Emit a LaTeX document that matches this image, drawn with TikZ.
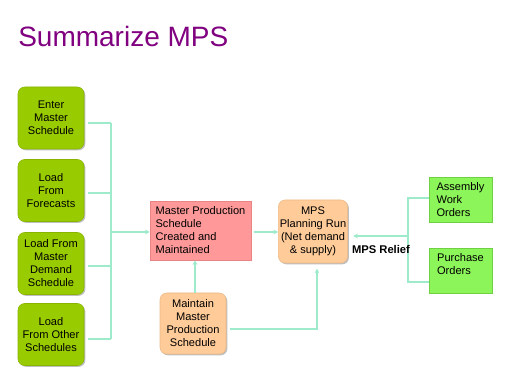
\documentclass[tikz,border=0pt]{standalone}
\usepackage{fontspec}
\setmainfont{Liberation Sans}
\usetikzlibrary{arrows.meta,shadows}
\definecolor{titlepurple}{HTML}{800080}
\definecolor{gfill}{HTML}{99CC00}
\definecolor{gdraw}{HTML}{88B400}
\definecolor{rfill}{HTML}{FF9999}
\definecolor{rdraw}{HTML}{E88484}
\definecolor{ofill}{HTML}{FFCC99}
\definecolor{odraw}{HTML}{EDB986}
\definecolor{lgfill}{HTML}{8CF55A}
\definecolor{lgdraw}{HTML}{70D044}
\definecolor{conn}{HTML}{9EEBCB}
\tikzset{
  boxbase/.style={font=\fontsize{8.3}{9.75}\selectfont, inner sep=1pt,
    drop shadow={shadow xshift=1pt,shadow yshift=-1pt,opacity=0.25,fill=black}},
  srcbox/.style={boxbase, rounded corners=5pt, fill=gfill, draw=gdraw, line width=0.4pt,
    minimum width=49.5pt, minimum height=46.5pt, align=center},
  mpsbox/.style={boxbase, fill=rfill, draw=rdraw, line width=0.4pt,
    minimum width=75.75pt, minimum height=44.25pt, align=left},
  runbox/.style={boxbase, rounded corners=5pt, fill=ofill, draw=odraw, line width=0.4pt,
    align=center},
  outbox/.style={boxbase, fill=lgfill, draw=lgdraw, line width=0.4pt,
    minimum width=47.25pt, minimum height=33.75pt, align=left},
  link/.style={draw=conn, line width=1.1pt},
  arr/.style={link, -{Stealth[length=3.5pt,width=3.5pt]}},
}
\begin{document}
\begin{tikzpicture}[x=0.75pt,y=-0.75pt]
\useasboundingbox[fill=white] (0,0) rectangle (512,367);
\node[anchor=base west, inner sep=0pt, text=titlepurple, font=\fontsize{21}{25}\selectfont]
  (title) at (18,46.5) {Summarize MPS};
% source boxes
\node[srcbox] (g1) at (51,118) {Enter\\Master\\Schedule};
\node[srcbox] (g2) at (51,190.5) {Load\\From\\Forecasts};
\node[srcbox] (g3) at (51,263.5) {Load From\\Master\\Demand\\Schedule};
\node[srcbox] (g4) at (51,334.5) {Load\\From Other\\Schedules};
% central boxes
\node[mpsbox] (mps) at (200.5,230.5) {Master Production\\Schedule\\Created and\\Maintained};
\node[runbox, minimum width=49.5pt, minimum height=45.75pt] (maint) at (193,323.5)
  {Maintain\\Master\\Production\\Schedule};
\node[runbox, minimum width=51pt, minimum height=47.25pt] (plan) at (313,231.5)
  {MPS\\Planning Run\\(Net demand\\\& supply)};
% output boxes
\node[outbox] (asm) at (460.5,199.5) {Assembly\\Work\\Orders};
\node[outbox] (pur) at (460.5,270.5) {Purchase\\Orders\\\mbox{}};
% bus coordinates
\coordinate (b1) at (111,123);
\coordinate (b2) at (111,193);
\coordinate (b3) at (111,266);
\coordinate (b4) at (111,339);
\coordinate (bm) at (111,232);
\coordinate (mp) at (317,329);
\coordinate (r) at (408,236);
\coordinate (ra) at (408,198);
\coordinate (rb) at (408,282);
% connectors
\draw[link, shorten <=3pt] (g1.east |- b1) -- (b1);
\draw[link, shorten <=3pt] (g2.east |- b2) -- (b2);
\draw[link, shorten <=3pt] (g3.east |- b3) -- (b3);
\draw[link, shorten <=3pt] (g4.east |- b4) -- (b4);
\draw[link] (b1) -- (b4);
\draw[arr] (bm) -- (mps.west |- bm);
\draw[arr] (maint.north -| 195,0) -- (mps.south -| 195,0);
\draw[arr, shorten <=3pt, shorten >=4pt] (maint.east |- mp) -- (mp) -- (mp |- plan.south);
\draw[arr, shorten <=2pt] (mps.east |- bm) -- (plan.west |- bm);
\draw[arr, shorten >=4pt] (r) -- (plan.east |- r);
\draw[link] (asm.west |- ra) -- (ra) -- (rb) -- (pur.west |- rb);
\node[font=\bfseries\fontsize{8.4}{10}\selectfont, inner sep=0pt] (relief) at (381,249.5) {MPS Relief};
\end{tikzpicture}
\end{document}
